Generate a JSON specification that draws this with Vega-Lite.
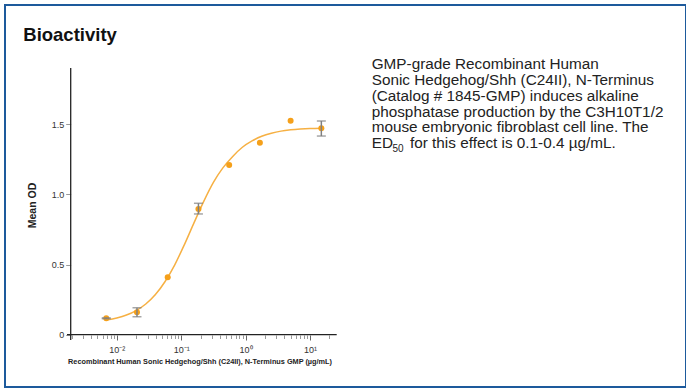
{
  "$schema": "https://vega.github.io/schema/vega-lite/v6.json",
  "width": 681,
  "height": 382,
  "autosize": "none",
  "padding": {"left": 5, "top": 5, "right": 0, "bottom": 4},
  "background": "#ffffff",
  "config": {"view": {"stroke": "#1d5a9c", "strokeWidth": 2}},
  "data": {"values": [{}]},
  "datasets": {
    "points": [
      {"conc": 0.006859, "od": 0.117, "lo": 0.114, "hi": 0.120},
      {"conc": 0.02058, "od": 0.160, "lo": 0.128, "hi": 0.192},
      {"conc": 0.06173, "od": 0.409, "lo": null, "hi": null},
      {"conc": 0.1852, "od": 0.895, "lo": 0.860, "hi": 0.936},
      {"conc": 0.5556, "od": 1.209, "lo": null, "hi": null},
      {"conc": 1.667, "od": 1.368, "lo": null, "hi": null},
      {"conc": 5.0, "od": 1.524, "lo": null, "hi": null},
      {"conc": 15.0, "od": 1.470, "lo": 1.415, "hi": 1.522}
    ],
    "curve": [
      {"conc": 0.00686, "od": 0.104},
      {"conc": 0.01, "od": 0.119},
      {"conc": 0.01413, "od": 0.140},
      {"conc": 0.01995, "od": 0.172},
      {"conc": 0.02818, "od": 0.219},
      {"conc": 0.03981, "od": 0.286},
      {"conc": 0.05623, "od": 0.379},
      {"conc": 0.07943, "od": 0.498},
      {"conc": 0.1122, "od": 0.642},
      {"conc": 0.1585, "od": 0.798},
      {"conc": 0.2239, "od": 0.950},
      {"conc": 0.3162, "od": 1.085},
      {"conc": 0.4467, "od": 1.190},
      {"conc": 0.631, "od": 1.270},
      {"conc": 0.8913, "od": 1.335},
      {"conc": 1.259, "od": 1.380},
      {"conc": 1.778, "od": 1.413},
      {"conc": 2.512, "od": 1.435},
      {"conc": 3.548, "od": 1.450},
      {"conc": 5.012, "od": 1.459},
      {"conc": 7.079, "od": 1.465},
      {"conc": 10, "od": 1.469},
      {"conc": 15, "od": 1.471}
    ]
  },
  "layer": [
    {
      "data": {"name": "curve"},
      "mark": {"type": "line", "color": "#F6B043", "strokeWidth": 1.5, "interpolate": "monotone"},
      "encoding": {
        "x": {
          "field": "conc", "type": "quantitative",
          "scale": {"type": "log", "domain": [0.00018365, 6893000], "nice": false},
          "axis": {
            "values": [0.002, 0.003, 0.004, 0.005, 0.006, 0.007, 0.008, 0.009, 0.01, 0.02, 0.03, 0.04, 0.05, 0.06, 0.07, 0.08, 0.09, 0.1, 0.2, 0.3, 0.4, 0.5, 0.6, 0.7, 0.8, 0.9, 1, 2, 3, 4, 5, 6, 7, 8, 9, 10, 20],
            "offset": -52,
            "domain": false,
            "grid": false,
            "tickSize": {"condition": {"test": "datum.value == 0.01 || datum.value == 0.1 || datum.value == 1 || datum.value == 10", "value": 5}, "value": 3.5},
            "tickColor": {"condition": {"test": "datum.value == 0.01 || datum.value == 0.1 || datum.value == 1 || datum.value == 10", "value": "#666666"}, "value": "#999999"},
            "tickWidth": 1,
            "labelExpr": "datum.value == 0.01 ? '10⁻²' : datum.value == 0.1 ? '10⁻¹' : datum.value == 1 ? '10⁰' : datum.value == 10 ? '10¹' : ''",
            "labelFont": "Liberation Sans",
            "labelFontSize": 9,
            "labelColor": "#333333",
            "labelPadding": 5,
            "labelFlush": false,
            "labelOverlap": false,
            "title": "Recombinant Human Sonic Hedgehog/Shh (C24II), N-Terminus GMP (µg/mL)",
            "titleFont": "Liberation Sans",
            "titleFontSize": 7.3,
            "titleFontWeight": "bold",
            "titleColor": "#222222",
            "titleX": 194.5,
            "titleY": 28.3,
            "titleAlign": "center",
            "titleAnchor": null,
            "titleBaseline": "alphabetic"
          }
        },
        "y": {
          "field": "od", "type": "quantitative",
          "scale": {"domain": [-0.3725, 2.3483], "nice": false, "zero": false},
          "axis": {
            "values": [0, 0.5, 1, 1.5],
            "offset": -65.7,
            "domain": false,
            "grid": false,
            "tickSize": 5,
            "tickColor": "#999999",
            "labelExpr": "datum.value == 0 ? '0' : format(datum.value, '.1f')",
            "labelFont": "Liberation Sans",
            "labelFontSize": 9,
            "labelColor": "#333333",
            "labelPadding": 2,
            "title": "Mean OD",
            "titleFont": "Liberation Sans",
            "titleFontSize": 10.5,
            "titleFontWeight": "bold",
            "titleColor": "#222222",
            "titleX": -38.5,
            "titleY": 200,
            "titleAngle": -90,
            "titleAlign": "center",
            "titleBaseline": "middle"
          }
        }
      }
    },
    {
      "data": {"name": "points"},
      "mark": {"type": "circle", "size": 36, "color": "#F5A01A", "opacity": 1},
      "encoding": {
        "x": {"field": "conc", "type": "quantitative"},
        "y": {"field": "od", "type": "quantitative"}
      }
    },
    {
      "data": {"name": "points"},
      "transform": [{"filter": "datum.lo != null"}],
      "mark": {"type": "rule", "color": "#808080", "strokeWidth": 1.5},
      "encoding": {
        "x": {"field": "conc", "type": "quantitative"},
        "y": {"field": "lo", "type": "quantitative"},
        "y2": {"field": "hi"}
      }
    },
    {
      "data": {"name": "points"},
      "transform": [{"filter": "datum.lo != null"}],
      "mark": {"type": "tick", "orient": "horizontal", "size": 9, "thickness": 1.5, "color": "#808080"},
      "encoding": {
        "x": {"field": "conc", "type": "quantitative"},
        "y": {"field": "lo", "type": "quantitative"}
      }
    },
    {
      "data": {"name": "points"},
      "transform": [{"filter": "datum.lo != null"}],
      "mark": {"type": "tick", "orient": "horizontal", "size": 9, "thickness": 1.5, "color": "#808080"},
      "encoding": {
        "x": {"field": "conc", "type": "quantitative"},
        "y": {"field": "hi", "type": "quantitative"}
      }
    },
    {
      "mark": {"type": "rule", "color": "#222222", "strokeWidth": 1.3},
      "encoding": {
        "x": {"datum": 0.001924, "type": "quantitative"},
        "y": {"datum": -0.0377, "type": "quantitative"},
        "y2": {"datum": 1.8996}
      }
    },
    {
      "mark": {"type": "rule", "color": "#222222", "strokeWidth": 1.3},
      "encoding": {
        "y": {"datum": 0, "type": "quantitative"},
        "x": {"datum": 0.001685, "type": "quantitative"},
        "x2": {"datum": 25.98}
      }
    },
    {
      "mark": {"type": "text", "text": "Bioactivity", "align": "left", "baseline": "alphabetic", "font": "Liberation Sans", "fontSize": 18.5, "fontWeight": "bold", "color": "#111111"},
      "encoding": {
        "x": {"datum": 0.0003531, "type": "quantitative"},
        "y": {"datum": 2.0954, "type": "quantitative"}
      }
    },
    {
      "mark": {"type": "text", "text": ["GMP-grade Recombinant Human", "Sonic Hedgehog/Shh (C24II), N-Terminus", "(Catalog # 1845-GMP) induces alkaline", "phosphatase production by the C3H10T1/2", "mouse embryonic fibroblast cell line. The"], "align": "left", "baseline": "alphabetic", "font": "Liberation Sans", "fontSize": 15.3, "lineHeight": 15.8, "color": "#222222"},
      "encoding": {
        "x": {"datum": 90.79, "type": "quantitative"},
        "y": {"datum": 1.8903, "type": "quantitative"}
      }
    },
    {
      "mark": {"type": "text", "text": "ED", "align": "left", "baseline": "alphabetic", "font": "Liberation Sans", "fontSize": 15.3, "color": "#222222"},
      "encoding": {
        "x": {"datum": 90.79, "type": "quantitative"},
        "y": {"datum": 1.3276, "type": "quantitative"}
      }
    },
    {
      "mark": {"type": "text", "text": "50", "align": "left", "baseline": "alphabetic", "font": "Liberation Sans", "fontSize": 10, "color": "#222222"},
      "encoding": {
        "x": {"datum": 191.1, "type": "quantitative"},
        "y": {"datum": 1.2991, "type": "quantitative"}
      }
    },
    {
      "mark": {"type": "text", "text": "for this effect is 0.1-0.4 µg/mL.", "align": "left", "baseline": "alphabetic", "font": "Liberation Sans", "fontSize": 15.3, "color": "#222222"},
      "encoding": {
        "x": {"datum": 357.1, "type": "quantitative"},
        "y": {"datum": 1.3276, "type": "quantitative"}
      }
    }
  ]
}
